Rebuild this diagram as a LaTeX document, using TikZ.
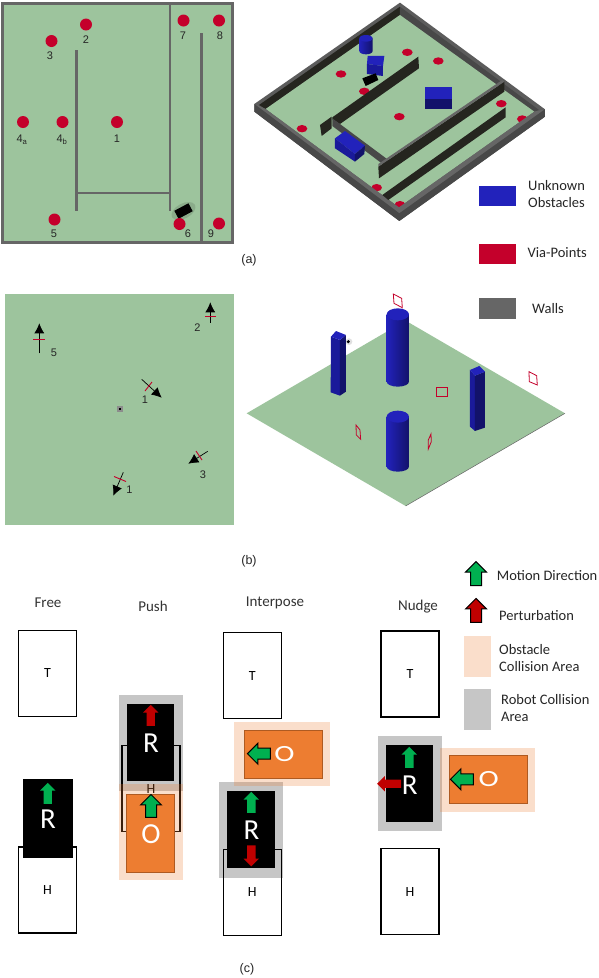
\documentclass[tikz,border=0pt]{standalone}
\usepackage{fontspec}
\setmainfont{Carlito}
\newfontfamily\arialfont{Liberation Sans}
\usetikzlibrary{arrows.meta,shapes.arrows}
\definecolor{simGreen}{HTML}{9DC49D}
\definecolor{simWall}{HTML}{666666}
\definecolor{simWallSide}{HTML}{484848}
\definecolor{simWallDark}{HTML}{25251F}
\definecolor{simRed}{HTML}{C4002B}
\definecolor{simBlue}{HTML}{2222BB}
\definecolor{simBlueTwo}{HTML}{1A1A9A}
\definecolor{simBlueDark}{HTML}{12126A}
\definecolor{arrowGreen}{HTML}{00B050}
\definecolor{arrowRed}{HTML}{C00000}
\definecolor{boxOrange}{HTML}{ED7D31}
\definecolor{boxOrangeEdge}{HTML}{AE5A21}
\definecolor{robotZone}{HTML}{C6C6C6}

\begin{document}
\begin{tikzpicture}[x=1pt,y=-1pt,>=Latex,line cap=butt,line join=miter]
\path[fill=white] (0,0) rectangle (598,978);
\tikzset{wall/.style={draw=simWall,line width=2.6pt},via/.style={circle,fill=simRed,minimum size=12pt,inner sep=0pt},tag/.style={font=\arialfont\fontsize{11}{11}\selectfont,text=black!85,inner sep=0pt},caption/.style={font=\arialfont\fontsize{12.5}{12.5}\selectfont,text=black!85,inner sep=0pt},side/.style={font=\fontsize{14.5}{17}\selectfont,text=black!85,anchor=west,align=left,inner sep=0pt},head/.style={font=\fontsize{15}{15}\selectfont,text=black!80,inner sep=0pt},trial/.style={draw=black,line width=1.1pt,fill=none,minimum width=58pt,minimum height=86pt,inner sep=0pt,font=\fontsize{14}{14}\selectfont},robot/.style={fill=black,inner sep=0pt},letter/.style={text=white,inner sep=0pt,font=\fontsize{29}{29}\selectfont},obstacle/.style={draw=boxOrangeEdge,line width=1pt,fill=boxOrange,inner sep=0pt},plainarrow/.style={single arrow,inner sep=4pt,single arrow head extend=3.5pt,single arrow tip angle=90,minimum height=21pt,minimum width=15pt,outer sep=0pt},linedarrow/.style={plainarrow,draw=black,line width=1pt,minimum height=23pt,minimum width=21pt,inner sep=5pt,single arrow head extend=5pt},flag/.style={draw=simRed,line width=.8pt},heading/.style={->,draw=black,line width=.7pt,>={Latex[length=10pt,width=10pt]}},marker/.style={draw=simRed,line width=.9pt,fill=none}}
\fill[simGreen] (2,3) rectangle (232,242);
\draw[wall,line width=3pt] (2,3) rectangle (232,242);
\draw[wall] (170,3) -- (170,211);
\draw[wall] (201.5,33) -- (201.5,242);
\draw[wall] (76.5,50) -- (76.5,211);
\draw[wall] (76.5,193) -- (170,193);
\fill[black!12!simGreen,rotate around={28:(183.5,211)}] (183.5,211) ellipse (13 and 7.5);
\node[fill=black,minimum width=16pt,minimum height=9pt,inner sep=0pt,rotate=28] (simRobotTop) at (183.5,211) {};
\node[via] (via1) at (117,122) {};
\node[via] (via2) at (86,24.5) {};
\node[via] (via3) at (51.5,41) {};
\node[via] (via4a) at (23,122) {};
\node[via] (via4b) at (62.5,122) {};
\node[via] (via5) at (54.5,219.5) {};
\node[via] (via6) at (179.5,224) {};
\node[via] (via7) at (183.5,20.5) {};
\node[via] (via8) at (219,20.5) {};
\node[via] (via9) at (219,223.5) {};
\node[tag] at (117,139) {1};
\node[tag] at (86,40) {2};
\node[tag] at (50,56) {3};
\node[tag] at (22,140) {4\textsubscript{a}};
\node[tag] at (62,140) {4\textsubscript{b}};
\node[tag] at (54,233.5) {5};
\node[tag] at (188,234) {6};
\node[tag] at (183,36) {7};
\node[tag] at (220,36) {8};
\node[tag] at (211,234) {9};
\node[caption] (capA) at (249,260) {(a)};
\begin{scope}[shift={(245,0)},x=0.3333pt,y=-0.3333pt]
\fill[simWall!90!black] (465,8) -- (900,328) -- (900,350) -- (463,663) -- (28,335) -- (28,312) -- cycle;
\fill[simWallDark] (465,20) -- (465,45) -- (62,327) -- (42,315) -- cycle;
\fill[simWallSide] (465,20) -- (882,330) -- (868,335) -- (465,45) -- cycle;
\fill[simGreen] (465,45) -- (868,335) -- (462,622) -- (62,327) -- cycle;
\foreach \ex/\ey in {487/157,580/183,288/222,358/274,463/350,171/386,769/311,832/357,395/563,465/614} \fill[simRed] (\ex,\ey) ellipse (16 and 11);
\fill[simWall] (28,312) -- (62,327) -- (462,622) -- (868,335) -- (900,328) -- (463,640) -- cycle;
\fill[simWallSide] (28,312) -- (463,640) -- (900,328) -- (900,350) -- (463,663) -- (28,335) -- cycle;
\fill[simWallDark] (520,170) -- (522,205) -- (285,372) -- (262,358) -- (262,352) -- cycle;
\fill[simWallDark] (260,350) -- (260,385) -- (230,408) -- (225,375) -- cycle;
\fill[simWallSide] (262,355) -- (430,480) -- (430,505) -- (262,378) -- cycle;
\fill[simWallDark] (778,245) -- (778,275) -- (402,535) -- (400,500) -- cycle;
\fill[simWall] (778,245) -- (400,500) -- (400,492) -- (772,240) -- cycle;
\fill[simWallDark] (782,322) -- (782,352) -- (430,600) -- (412,585) -- cycle;
\shade[left color=simBlue,right color=simBlueDark] (343,115) -- (343,153) arc[start angle=180,end angle=0,x radius=20,y radius=10] -- (383,115) -- cycle;
\fill[simBlue] (363,115) ellipse (20 and 10);
\fill[simBlue] (368,168) -- (418,168) -- (414,198) -- (366,192) -- cycle;
\fill[simBlueTwo] (366,192) -- (414,198) -- (414,228) -- (366,222) -- cycle;
\fill[black] (352,235) -- (392,220) -- (400,240) -- (362,258) -- cycle;
\fill[simBlue] (540,260) rectangle (622,296);
\fill[simBlueDark] (540,296) rectangle (622,328);
\fill[simBlue] (270,415) -- (300,393) -- (360,437) -- (330,462) -- cycle;
\fill[simBlueTwo] (270,415) -- (330,462) -- (330,485) -- (270,445) -- cycle;
\fill[simBlueDark] (330,462) -- (360,437) -- (358,462) -- (330,485) -- cycle;
\end{scope}
\fill[simBlue] (479,186) rectangle (516,206);
\fill[simRed] (479,244) rectangle (516,264);
\fill[simWall] (479,298) rectangle (516,319);
\node[side] (legObstacles) at (528,194) {Unknown\\Obstacles};
\node[side] (legVia) at (527.5,253) {Via-Points};
\node[side] (legWalls) at (532,308.5) {Walls};
\fill[simGreen] (5,294) rectangle (234,525);
\coordinate (h5a) at (39.3,353.3); \coordinate (h5b) at (39.3,323.3);
\draw[heading] (h5a) -- (h5b);
\draw[marker,line width=1.1pt] (33,339.5) -- (45,339.5);
\coordinate (h2a) at (210.3,322.7); \coordinate (h2b) at (210.3,302.3);
\draw[heading] (h2a) -- (h2b);
\draw[marker] (205,316.3) -- (216,316.3);
\coordinate (h1a) at (141.7,379.3); \coordinate (h1b) at (161.7,397.7);
\draw[heading] (h1a) -- (h1b);
\draw[marker] (152,382) -- (145,391);
\coordinate (h3a) at (207.7,451.3); \coordinate (h3b) at (188.3,463.7);
\draw[heading] (h3a) -- (h3b);
\draw[marker] (196,451) -- (202,460);
\coordinate (h4a) at (123.3,472.3); \coordinate (h4b) at (113.3,495.7);
\draw[heading] (h4a) -- (h4b);
\draw[marker] (114,476.5) -- (126,481.5);
\node[tag] at (54,353) {5};
\node[tag] at (197.5,328) {2};
\node[tag] at (145,400) {1};
\node[tag] at (203,474.5) {3};
\node[tag] at (129.5,490) {1};
\fill[black!45] (116.7,406.3) rectangle (122.7,412.3);
\fill[black] (118.7,408.3) rectangle (120.7,410.3);
\begin{scope}[shift={(240,285)},x=0.3333pt,y=-0.3333pt]
\fill[simGreen] (20,385) -- (497,107) -- (975,385) -- (497,663) -- cycle;
\draw[black!60,line width=.5pt] (975,385) -- (497,663);
\fill[black!12] (327,170) circle (10);
\fill[black] (325,170) circle (5);
\fill[simBlueTwo] (273,155) -- (300,165) -- (300,332) -- (272,322) -- cycle;
\fill[simBlueDark] (300,165) -- (318,150) -- (318,320) -- (300,332) -- cycle;
\fill[simBlue] (273,155) -- (288,138) -- (318,150) -- (300,165) -- cycle;
\fill[simBlueTwo] (690,255) -- (705,272) -- (705,438) -- (690,425) -- cycle;
\fill[simBlueDark] (705,272) -- (735,260) -- (735,428) -- (705,438) -- cycle;
\fill[simBlue] (690,255) -- (718,243) -- (735,260) -- (705,272) -- cycle;
\foreach \cy/\dy in {88/290,395/545} {
\shade[left color=simBlue,right color=simBlueDark] (440,\cy) -- (440,\dy) arc[start angle=180,end angle=0,x radius=33.5,y radius=15] -- (507,\cy) -- cycle;
\fill[simBlue] (473.5,\cy) ellipse (33.5 and 18);
}
\draw[flag] (460,27) -- (485,40) -- (487,68) -- (462,55) -- cycle;
\draw[flag] (589,307) rectangle (623,335);
\draw[flag] (867,260) -- (890,272) -- (892,300) -- (868,290) -- cycle;
\draw[flag] (348,420) -- (360,435) -- (362,463) -- (349,450) -- cycle;
\draw[flag] (573,447) -- (565,465) -- (565,492) -- (574,470) -- cycle;
\end{scope}
\node[caption] (capB) at (249,561) {(b)};
\node[head] (headFree) at (48,603) {Free};
\node[head] (headPush) at (153,606) {Push};
\node[head] (headInterpose) at (275,603) {Interpose};
\node[head] (headNudge) at (418,607) {Nudge};
\node[caption] (capC) at (247,969.5) {(c)};
\node[trial] (freeT) at (47.5,673.3) {T};
\node[trial] (freeH) at (47.5,890) {H};
\node[robot,minimum width=50pt,minimum height=78.7pt] (freeR) at (48,818.3) {};
\node[plainarrow,fill=arrowGreen,rotate=90] (freeMove) at (47.7,795.5) {};
\node[letter] (freeLetter) at (48,819.5) {R};
\fill[robotZone] (119,695) rectangle (183,791);
\node[trial] (pushH) at (151,788.5) {H};
\fill[boxOrange,opacity=.25] (119,784.3) rectangle (183,879.7);
\node[robot,minimum width=47pt,minimum height=77pt] (pushR) at (150.5,742.5) {};
\node[plainarrow,fill=arrowRed,rotate=90] (pushPert) at (150.7,717.5) {};
\node[letter] (pushLetter) at (151,743.5) {R};
\node[obstacle,minimum width=48.4pt,minimum height=78pt] (pushO) at (150.5,833.3) {};
\node[linedarrow,fill=arrowGreen,rotate=90] (pushMove) at (151,808.7) {};
\node[letter] (pushObs) at (151,834) {O};
\node[trial] (interT) at (252.2,675.5) {T};
\fill[robotZone] (219,782) rectangle (283,878);
\node[trial] (interH) at (252.2,892.3) {H};
\node[robot,minimum width=48pt,minimum height=76.7pt] (interR) at (251,829.3) {};
\node[plainarrow,fill=arrowGreen,rotate=90] (interMove) at (251.3,804.5) {};
\node[plainarrow,fill=arrowRed,rotate=-90] (interPert) at (251.3,853.8) {};
\node[letter] (interLetter) at (251.5,830) {R};
\fill[boxOrange,opacity=.25] (234,722) rectangle (330,786);
\node[obstacle,minimum width=78.4pt,minimum height=48.4pt] (interO) at (283.5,754.5) {};
\node[linedarrow,fill=arrowGreen,rotate=180] (interMoveO) at (261.7,753.7) {};
\node[letter] (interObs) at (284.5,753.7) {\scalebox{1.05}[.8]{O}};
\node[trial] (nudgeT) at (410,674) {T};
\fill[robotZone] (378,736) rectangle (442,831);
\node[robot,minimum width=47pt,minimum height=77pt] (nudgeR) at (409.5,783.5) {};
\node[plainarrow,fill=arrowGreen,rotate=90] (nudgeMove) at (409.3,759.5) {};
\node[letter] (nudgeLetter) at (409.7,785) {R};
\node[plainarrow,fill=arrowRed,rotate=180,minimum height=24pt] (nudgePert) at (391.2,783.7) {};
\node[trial] (nudgeH) at (410,891.5) {H};
\fill[boxOrange,opacity=.25] (440,748) rectangle (535,812);
\node[obstacle,minimum width=78.4pt,minimum height=48.4pt] (nudgeO) at (488.5,779.5) {};
\node[linedarrow,fill=arrowGreen,rotate=180] (nudgeMoveO) at (464.7,779.3) {};
\node[letter] (nudgeObs) at (488.7,779) {\scalebox{1.05}[.8]{O}};
\node[linedarrow,fill=arrowGreen,rotate=90,minimum height=24pt] (legMotion) at (476,576.3) {};
\node[side] (legMotionText) at (496.7,575.7) {Motion Direction};
\node[linedarrow,fill=arrowRed,rotate=90,minimum height=24pt] (legPert) at (476,613.2) {};
\node[side] (legPertText) at (499,616) {Perturbation};
\fill[boxOrange,opacity=.25] (464,636) rectangle (491,677);
\node[side] (legObsText) at (499,658.5) {Obstacle\\Collision Area};
\fill[robotZone] (464,689) rectangle (491,730);
\node[side] (legRobotText) at (501,708.5) {Robot Collision\\Area};
\end{tikzpicture}
\end{document}
